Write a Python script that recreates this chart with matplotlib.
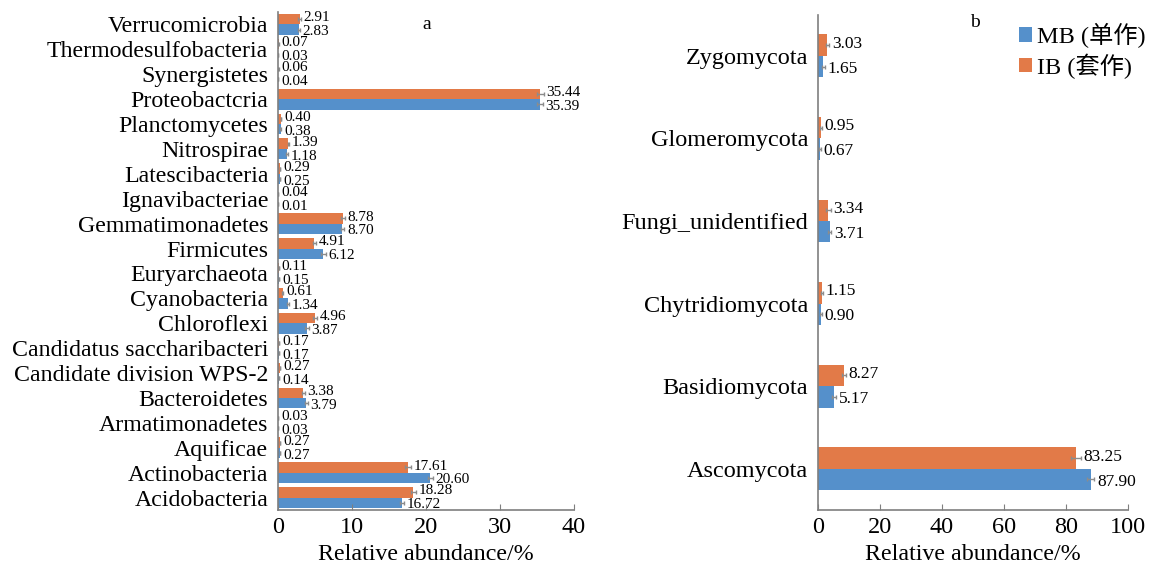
import numpy as np
import matplotlib.pyplot as plt

plt.rcParams['font.family'] = ['Liberation Serif', 'Noto Sans CJK SC']

# 细菌门水平相对丰度 (从下到上)
bact_names = ['Acidobacteria', 'Actinobacteria', 'Aquificae', 'Armatimonadetes',
              'Bacteroidetes', 'Candidate division WPS-2', 'Candidatus saccharibacteri',
              'Chloroflexi', 'Cyanobacteria', 'Euryarchaeota', 'Firmicutes',
              'Gemmatimonadetes', 'Ignavibacteriae', 'Latescibacteria', 'Nitrospirae',
              'Planctomycetes', 'Proteobactcria', 'Synergistetes',
              'Thermodesulfobacteria', 'Verrucomicrobia']
bact_mb = [16.72, 20.60, 0.27, 0.03, 3.79, 0.14, 0.17, 3.87, 1.34, 0.15, 6.12,
           8.70, 0.01, 0.25, 1.18, 0.38, 35.39, 0.04, 0.03, 2.83]
bact_ib = [18.28, 17.61, 0.27, 0.03, 3.38, 0.27, 0.17, 4.96, 0.61, 0.11, 4.91,
           8.78, 0.04, 0.29, 1.39, 0.40, 35.44, 0.06, 0.07, 2.91]
bact_mb_err = [0.30, 0.35, 0.02, 0.01, 0.20, 0.02, 0.02, 0.25, 0.15, 0.02, 0.30,
               0.25, 0.01, 0.03, 0.10, 0.05, 0.40, 0.01, 0.01, 0.15]
bact_ib_err = [0.35, 0.40, 0.02, 0.01, 0.20, 0.03, 0.02, 0.25, 0.10, 0.02, 0.25,
               0.25, 0.01, 0.03, 0.10, 0.05, 0.45, 0.01, 0.01, 0.20]

# 真菌门水平相对丰度
fungi_names = ['Ascomycota', 'Basidiomycota', 'Chytridiomycota',
               'Fungi_unidentified', 'Glomeromycota', 'Zygomycota']
fungi_mb = [87.90, 5.17, 0.90, 3.71, 0.67, 1.65]
fungi_ib = [83.25, 8.27, 1.15, 3.34, 0.95, 3.03]
fungi_mb_err = [1.2, 0.6, 0.3, 0.5, 0.3, 0.5]
fungi_ib_err = [1.5, 0.6, 0.3, 0.8, 0.3, 0.6]

c_mb = '#5590cb'
c_ib = '#e27a48'
ecol = '#8c8c8c'
axcol = '#7f7f7f'

fig = plt.figure(figsize=(11.59, 5.65), dpi=100)


def draw_panel(ax, names, mb, ib, mb_err, ib_err, h, xmax, step, fs_cat, fs_lab):
    y = np.arange(len(names))
    ax.barh(y + h / 2, ib, height=h, color=c_ib, label='IB (套作)',
            xerr=ib_err, error_kw=dict(ecolor=ecol, elinewidth=1, capsize=1.5))
    ax.barh(y - h / 2, mb, height=h, color=c_mb, label='MB (单作)',
            xerr=mb_err, error_kw=dict(ecolor=ecol, elinewidth=1, capsize=1.5))
    for yi, v, e in zip(y, ib, ib_err):
        ax.annotate(f'{v:.2f}', (v + e, yi + h / 2), xytext=(2, 1),
                    textcoords='offset points', va='center', ha='left', fontsize=fs_lab)
    for yi, v, e in zip(y, mb, mb_err):
        ax.annotate(f'{v:.2f}', (v + e, yi - h / 2), xytext=(2, -1.5),
                    textcoords='offset points', va='center', ha='left', fontsize=fs_lab)
    ax.set_yticks(y)
    ax.set_yticklabels(names, fontsize=fs_cat)
    ax.set_ylim(-0.5, len(names) - 0.5)
    ax.set_xlim(0, xmax)
    ax.set_xticks(np.arange(0, xmax + 1, step))
    ax.tick_params(axis='x', labelsize=17.5, direction='in', length=4, color=axcol, pad=5)
    ax.tick_params(axis='y', length=0, pad=7)
    for s in ['top', 'right']:
        ax.spines[s].set_visible(False)
    for s in ['left', 'bottom']:
        ax.spines[s].set_color(axcol)
        ax.spines[s].set_linewidth(1.2)
    ax.set_xlabel('Relative abundance/%', fontsize=17.3, labelpad=4)


ax1 = fig.add_axes([0.2399, 0.0973, 0.2554, 0.8815])
draw_panel(ax1, bact_names, bact_mb, bact_ib, bact_mb_err, bact_ib_err,
           0.42, 40, 10, 17.2, 11)
fig.text(0.368, 0.957, 'a', fontsize=14, ha='center', va='center')

ax2 = fig.add_axes([0.7058, 0.0973, 0.2675, 0.8770])
draw_panel(ax2, fungi_names, fungi_mb, fungi_ib, fungi_mb_err, fungi_ib_err,
           0.26, 100, 20, 17.5, 12.5)
fig.text(0.841, 0.960, 'b', fontsize=14, ha='center', va='center')

handles, labels = ax2.get_legend_handles_labels()
fig.legend(handles[::-1], labels[::-1], loc='upper right', bbox_to_anchor=(0.997, 0.976),
           frameon=False, fontsize=17.5, handlelength=0.55, handleheight=0.55,
           handletextpad=0.2, labelspacing=0.2, borderaxespad=0)

fig.savefig('out.png', dpi=100)
